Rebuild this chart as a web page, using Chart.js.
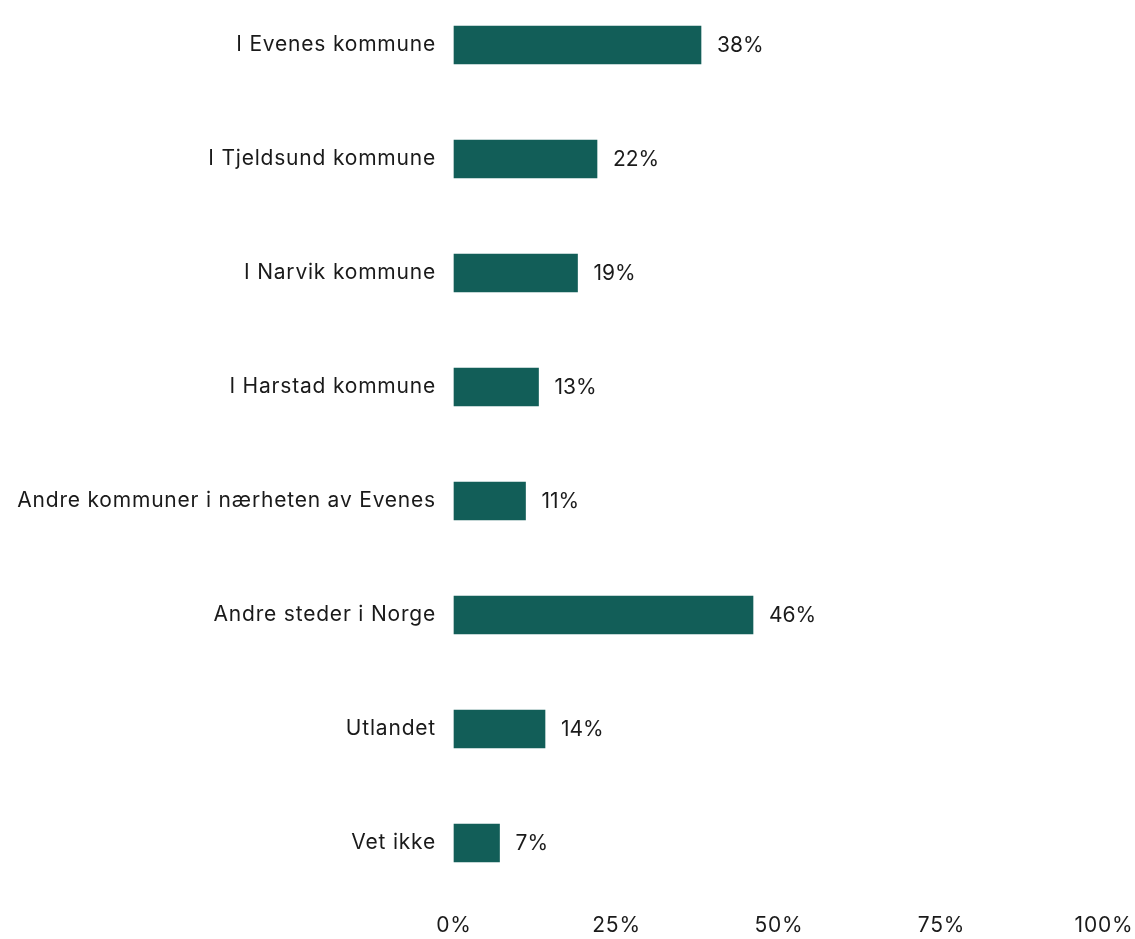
<!DOCTYPE html>
<html>
<head>
<meta charset="utf-8">
<script src="https://cdn.jsdelivr.net/npm/chart.js@4/dist/chart.umd.min.js"></script>
<style>
  html, body { margin: 0; padding: 0; background: #fff; }
  #wrap { width: 1135px; height: 939px; }
</style>
</head>
<body>
<div id="wrap"><canvas id="chart"></canvas></div>
<script>
const categories = [
  'I Evenes kommune',
  'I Tjeldsund kommune',
  'I Narvik kommune',
  'I Harstad kommune',
  'Andre kommuner i nærheten av Evenes',
  'Andre steder i Norge',
  'Utlandet',
  'Vet ikke'
];
const values = [38, 22, 19, 13, 11, 46, 14, 7];
const xTicks = [0, 25, 50, 75, 100];

const barColor = '#125e58';
const textColor = '#1a1a1a';
const fontFamily = "Inter, 'Noto Sans', sans-serif";

// a little extra tracking makes the labels read wider
const spacing = {
  id: 'spacing',
  beforeLayout(chart) { chart.ctx.letterSpacing = '0.8px'; },
  beforeDraw(chart) { chart.ctx.letterSpacing = '0.8px'; }
};

// draws "NN%" to the right of each bar
const valueLabels = {
  id: 'valueLabels',
  afterDatasetsDraw(chart) {
    const ctx = chart.ctx;
    const meta = chart.getDatasetMeta(0);
    ctx.save();
    ctx.letterSpacing = '0px';
    ctx.font = '21px ' + fontFamily;
    ctx.fillStyle = textColor;
    ctx.textAlign = 'left';
    ctx.textBaseline = 'middle';
    meta.data.forEach((bar, i) => {
      ctx.fillText(values[i] + '%', bar.x + 16, bar.y + 1);
    });
    ctx.restore();
  }
};

new Chart(document.getElementById('chart'), {
  type: 'bar',
  data: {
    labels: categories,
    datasets: [{
      data: values,
      backgroundColor: barColor,
      barThickness: 38,
      clip: false
    }]
  },
  options: {
    indexAxis: 'y',
    responsive: true,
    maintainAspectRatio: false,
    animation: false,
    layout: { padding: { top: 45, right: 31, bottom: 0, left: 0 } },
    plugins: { legend: { display: false }, tooltip: { enabled: false } },
    scales: {
      x: {
        min: 0,
        max: 100,
        afterBuildTicks(scale) {
          scale.ticks = xTicks.map(v => ({ value: v }));
        },
        afterFit(scale) {
          scale.height = 96;
          scale.paddingLeft = 0;
          scale.paddingRight = 0;
        },
        grid: { display: false, drawTicks: false },
        border: { display: false },
        ticks: {
          padding: 70,
          color: textColor,
          font: { size: 21, family: fontFamily },
          maxRotation: 0,
          callback: v => v + '%'
        }
      },
      y: {
        offset: false,
        afterFit(scale) {
          scale.width = 454;
          scale.paddingTop = 0;
          scale.paddingBottom = 0;
        },
        grid: { display: false, drawTicks: false },
        border: { display: false },
        ticks: {
          padding: 18,
          color: textColor,
          font: { size: 21, family: fontFamily }
        }
      }
    }
  },
  plugins: [spacing, valueLabels]
});
</script>
</body>
</html>
